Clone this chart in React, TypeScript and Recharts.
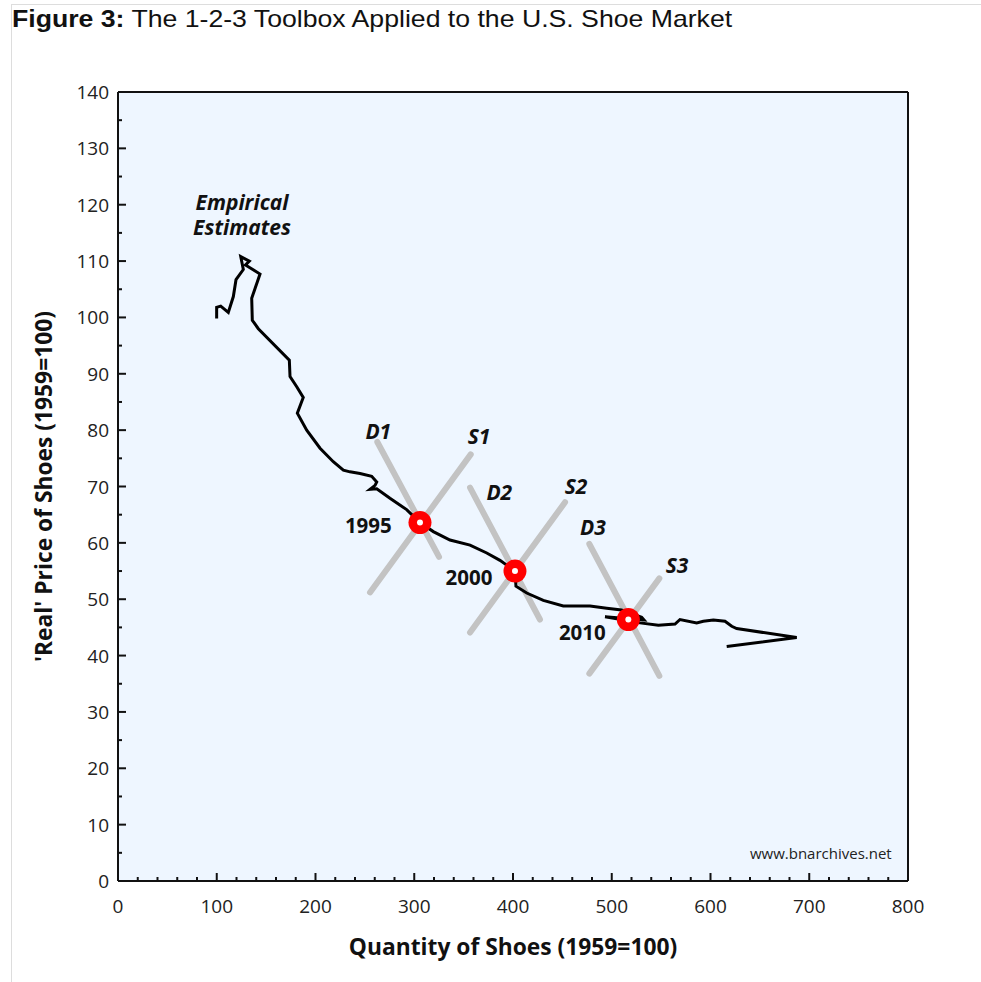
import React from 'react';
import {
  ComposedChart,
  Line,
  Scatter,
  XAxis,
  YAxis,
  CartesianGrid,
  ReferenceLine,
  Label,
} from 'recharts';

// Empirical price/quantity path (quantity x, real price y), in plotted order
const empiricalPath = [
  { x: 99.9, y: 99.8 }, { x: 99.9, y: 101.8 }, { x: 104.0, y: 102.0 }, { x: 111.7, y: 100.9 },
  { x: 116.8, y: 103.7 }, { x: 119.5, y: 106.7 }, { x: 126.9, y: 108.5 }, { x: 124.3, y: 110.8 },
  { x: 133.0, y: 110.0 }, { x: 129.1, y: 109.3 }, { x: 143.8, y: 107.7 }, { x: 138.7, y: 105.1 },
  { x: 135.4, y: 103.4 }, { x: 136.0, y: 99.5 }, { x: 142.1, y: 98.0 }, { x: 173.5, y: 92.4 },
  { x: 174.2, y: 89.5 }, { x: 181.0, y: 87.7 }, { x: 187.6, y: 85.8 }, { x: 181.6, y: 83.0 },
  { x: 191.1, y: 80.0 }, { x: 204.6, y: 76.8 }, { x: 218.0, y: 74.4 }, { x: 228.2, y: 72.9 },
  { x: 234.9, y: 72.6 }, { x: 245.1, y: 72.3 }, { x: 256.9, y: 71.8 }, { x: 262.0, y: 70.8 },
  { x: 260.3, y: 70.2 }, { x: 255.2, y: 69.5 }, { x: 262.0, y: 69.6 }, { x: 275.4, y: 67.9 },
  { x: 292.3, y: 65.9 }, { x: 305.8, y: 63.6 }, { x: 319.3, y: 62.0 }, { x: 336.2, y: 60.5 },
  { x: 356.5, y: 59.6 }, { x: 373.4, y: 58.2 }, { x: 386.8, y: 56.9 }, { x: 402.0, y: 55.0 },
  { x: 403.0, y: 52.3 }, { x: 413.9, y: 51.1 }, { x: 430.7, y: 49.8 }, { x: 450.9, y: 48.8 },
  { x: 478.0, y: 48.8 }, { x: 494.9, y: 48.4 }, { x: 509.9, y: 48.1 }, { x: 530.3, y: 46.8 },
  { x: 532.7, y: 46.3 }, { x: 493.2, y: 46.9 }, { x: 528.6, y: 45.8 }, { x: 547.2, y: 45.4 },
  { x: 564.1, y: 45.6 }, { x: 569.1, y: 46.4 }, { x: 586.0, y: 45.8 }, { x: 592.7, y: 46.1 },
  { x: 602.9, y: 46.3 }, { x: 614.7, y: 46.1 }, { x: 621.5, y: 45.2 }, { x: 626.5, y: 44.8 },
  { x: 687.3, y: 43.2 }, { x: 616.4, y: 41.6 },
];

// Illustrative demand and supply curves (two end points each)
const D1 = [{ x: 262.6, y: 77.9 }, { x: 325.1, y: 57.5 }];
const S1 = [{ x: 357.2, y: 75.7 }, { x: 255.2, y: 51.2 }];
const D2 = [{ x: 356.5, y: 69.8 }, { x: 427.3, y: 46.4 }];
const S2 = [{ x: 452.7, y: 67.2 }, { x: 356.5, y: 44.1 }];
const D3 = [{ x: 477.3, y: 59.8 }, { x: 548.2, y: 36.4 }];
const S3 = [{ x: 548.2, y: 53.7 }, { x: 477.3, y: 36.8 }];
const curves = [D1, S1, D2, S2, D3, S3];

// Equilibrium points
const equilibria = [
  { x: 305.8, y: 63.6 },
  { x: 402.0, y: 55.0 },
  { x: 516.8, y: 46.4 },
];

// Curve labels
const curveLabels = [
  { x: 263.6, y: 79.8, text: 'D1' },
  { x: 365.6, y: 78.9, text: 'S1' },
  { x: 386.1, y: 69.1, text: 'D2' },
  { x: 463.8, y: 70.1, text: 'S2' },
  { x: 481.0, y: 62.9, text: 'D3' },
  { x: 566.1, y: 56.1, text: 'S3' },
];

// Year labels
const yearLabels = [
  { x: 253.5, y: 63.1, text: '1995' },
  { x: 355.4, y: 54.0, text: '2000' },
  { x: 470.2, y: 44.1, text: '2010' },
];

const noteLabels = [
  { x: 125.6, y: 120.4, text: 'Empirical' },
  { x: 125.6, y: 116.0, text: 'Estimates' },
];
const sourceLabels = [{ x: 783.5, y: 4.9, text: 'www.bnarchives.net' }];

const xTicks = Array.from({ length: 41 }, (_, i) => i * 20);
const yTicks = Array.from({ length: 29 }, (_, i) => i * 5);

const FONT = '"Open Sans", "Noto Sans", sans-serif';
const INK = '#111';

const XTick = (props: any) => {
  const { x, y, payload } = props;
  const v = payload.value;
  const major = v % 100 === 0;
  return (
    <g>
      <line x1={x} y1={y} x2={x} y2={y - (major ? 8 : 4)} stroke={INK} strokeWidth={2} />
      {major && (
        <text x={x} y={y + 25} textAnchor="middle" dominantBaseline="central" fontFamily={FONT} fontSize={19} fill="#222">
          {v}
        </text>
      )}
    </g>
  );
};

const YTick = (props: any) => {
  const { x, y, payload } = props;
  const v = payload.value;
  const major = v % 10 === 0;
  return (
    <g>
      <line x1={x} y1={y} x2={x + (major ? 8 : 4)} y2={y} stroke={INK} strokeWidth={2} />
      {major && (
        <text x={x - 9} y={y} textAnchor="end" dominantBaseline="central" fontFamily={FONT} fontSize={19} fill="#222">
          {v}
        </text>
      )}
    </g>
  );
};

const EquilibriumMarker = (props: any) => {
  const { cx, cy } = props;
  return (
    <g>
      <circle cx={cx} cy={cy} r={11.5} fill="#ff0000" />
      <circle cx={cx} cy={cy} r={3} fill="#ffffff" />
    </g>
  );
};

const CurveLabel = (props: any) => {
  const { cx, cy, payload } = props;
  return (
    <text x={cx} y={cy} textAnchor="middle" dominantBaseline="central" fontFamily={FONT} fontSize={21} fontWeight="bold" fontStyle="italic" fill={INK}>
      {payload.text}
    </text>
  );
};

const YearLabel = (props: any) => {
  const { cx, cy, payload } = props;
  return (
    <text x={cx} y={cy} textAnchor="middle" dominantBaseline="central" fontFamily={FONT} fontSize={20.5} fontWeight="bold" fill={INK}>
      {payload.text}
    </text>
  );
};

const NoteLabel = (props: any) => {
  const { cx, cy, payload } = props;
  return (
    <text x={cx} y={cy} textAnchor="middle" dominantBaseline="central" fontFamily={FONT} fontSize={21} fontWeight="bold" fontStyle="italic" fill={INK}>
      {payload.text}
    </text>
  );
};

const SourceLabel = (props: any) => {
  const { cx, cy, payload } = props;
  return (
    <text x={cx} y={cy} textAnchor="end" dominantBaseline="central" fontFamily={FONT} fontSize={15} fill="#222">
      {payload.text}
    </text>
  );
};

const XTitle = (props: any) => {
  const { viewBox } = props;
  return (
    <text x={viewBox.x + viewBox.width / 2} y={viewBox.y + 65} textAnchor="middle" dominantBaseline="central" fontFamily={FONT} fontSize={22.8} fontWeight="bold" fill={INK}>
      Quantity of Shoes (1959=100)
    </text>
  );
};

const YTitle = (props: any) => {
  const { viewBox } = props;
  const cx = viewBox.x + 43;
  const cy = viewBox.y + viewBox.height / 2;
  return (
    <text x={cx} y={cy} transform={`rotate(-90 ${cx} ${cy})`} textAnchor="middle" dominantBaseline="central" fontFamily={FONT} fontSize={22.8} fontWeight="bold" fill={INK}>
      'Real' Price of Shoes (1959=100)
    </text>
  );
};

export default function App() {
  return (
    <div style={{ position: 'absolute', left: 0, top: 0, width: 981, height: 982, background: '#fff' }}>
      <div style={{ position: 'absolute', left: 11, top: 4, right: 0, height: 1, background: '#dddddd' }} />
      <div style={{ position: 'absolute', left: 11, top: 4, bottom: 0, width: 1, background: '#dddddd' }} />
      <div
        style={{
          position: 'absolute',
          left: 12,
          top: 5,
          fontFamily: '"Liberation Sans", Arial, sans-serif',
          fontSize: 24,
          lineHeight: '28px',
          color: '#111',
          whiteSpace: 'nowrap',
          transform: 'scaleX(1.11)',
          transformOrigin: 'left top',
        }}
      >
        <b>Figure 3:</b> The 1-2-3 Toolbox Applied to the U.S. Shoe Market
      </div>
      <div style={{ position: 'absolute', left: 0, top: 0 }}>
        <ComposedChart width={981} height={982} margin={{ top: 92, right: 73, bottom: 0, left: 0 }}>
          <CartesianGrid fill="#eef6ff" horizontal={false} vertical={false} />
          <XAxis
            type="number"
            dataKey="x"
            domain={[0, 800]}
            allowDataOverflow
            ticks={xTicks}
            interval={0}
            height={101}
            tickSize={0}
            tickMargin={0}
            tick={<XTick />}
            tickLine={false}
            axisLine={{ stroke: INK, strokeWidth: 2 }}
          >
            <Label content={<XTitle />} />
          </XAxis>
          <YAxis
            type="number"
            dataKey="y"
            domain={[0, 140]}
            allowDataOverflow
            ticks={yTicks}
            interval={0}
            width={118}
            tickSize={0}
            tickMargin={0}
            tick={<YTick />}
            tickLine={false}
            axisLine={{ stroke: INK, strokeWidth: 2 }}
          >
            <Label content={<YTitle />} />
          </YAxis>
          <ReferenceLine y={140} stroke={INK} strokeWidth={2} />
          <ReferenceLine x={800} stroke={INK} strokeWidth={2} />
          {curves.map((c, i) => (
            <Line
              key={i}
              data={c}
              dataKey="y"
              type="linear"
              stroke="#c3c3c3"
              strokeWidth={6}
              strokeLinecap="round"
              dot={false}
              activeDot={false}
              isAnimationActive={false}
            />
          ))}
          <Line
            data={empiricalPath}
            dataKey="y"
            type="linear"
            stroke="#000"
            strokeWidth={3}
            dot={false}
            activeDot={false}
            isAnimationActive={false}
          />
          <Scatter data={equilibria} dataKey="y" shape={<EquilibriumMarker />} isAnimationActive={false} />
          <Scatter data={curveLabels} dataKey="y" shape={<CurveLabel />} isAnimationActive={false} />
          <Scatter data={yearLabels} dataKey="y" shape={<YearLabel />} isAnimationActive={false} />
          <Scatter data={noteLabels} dataKey="y" shape={<NoteLabel />} isAnimationActive={false} />
          <Scatter data={sourceLabels} dataKey="y" shape={<SourceLabel />} isAnimationActive={false} />
        </ComposedChart>
      </div>
    </div>
  );
}
